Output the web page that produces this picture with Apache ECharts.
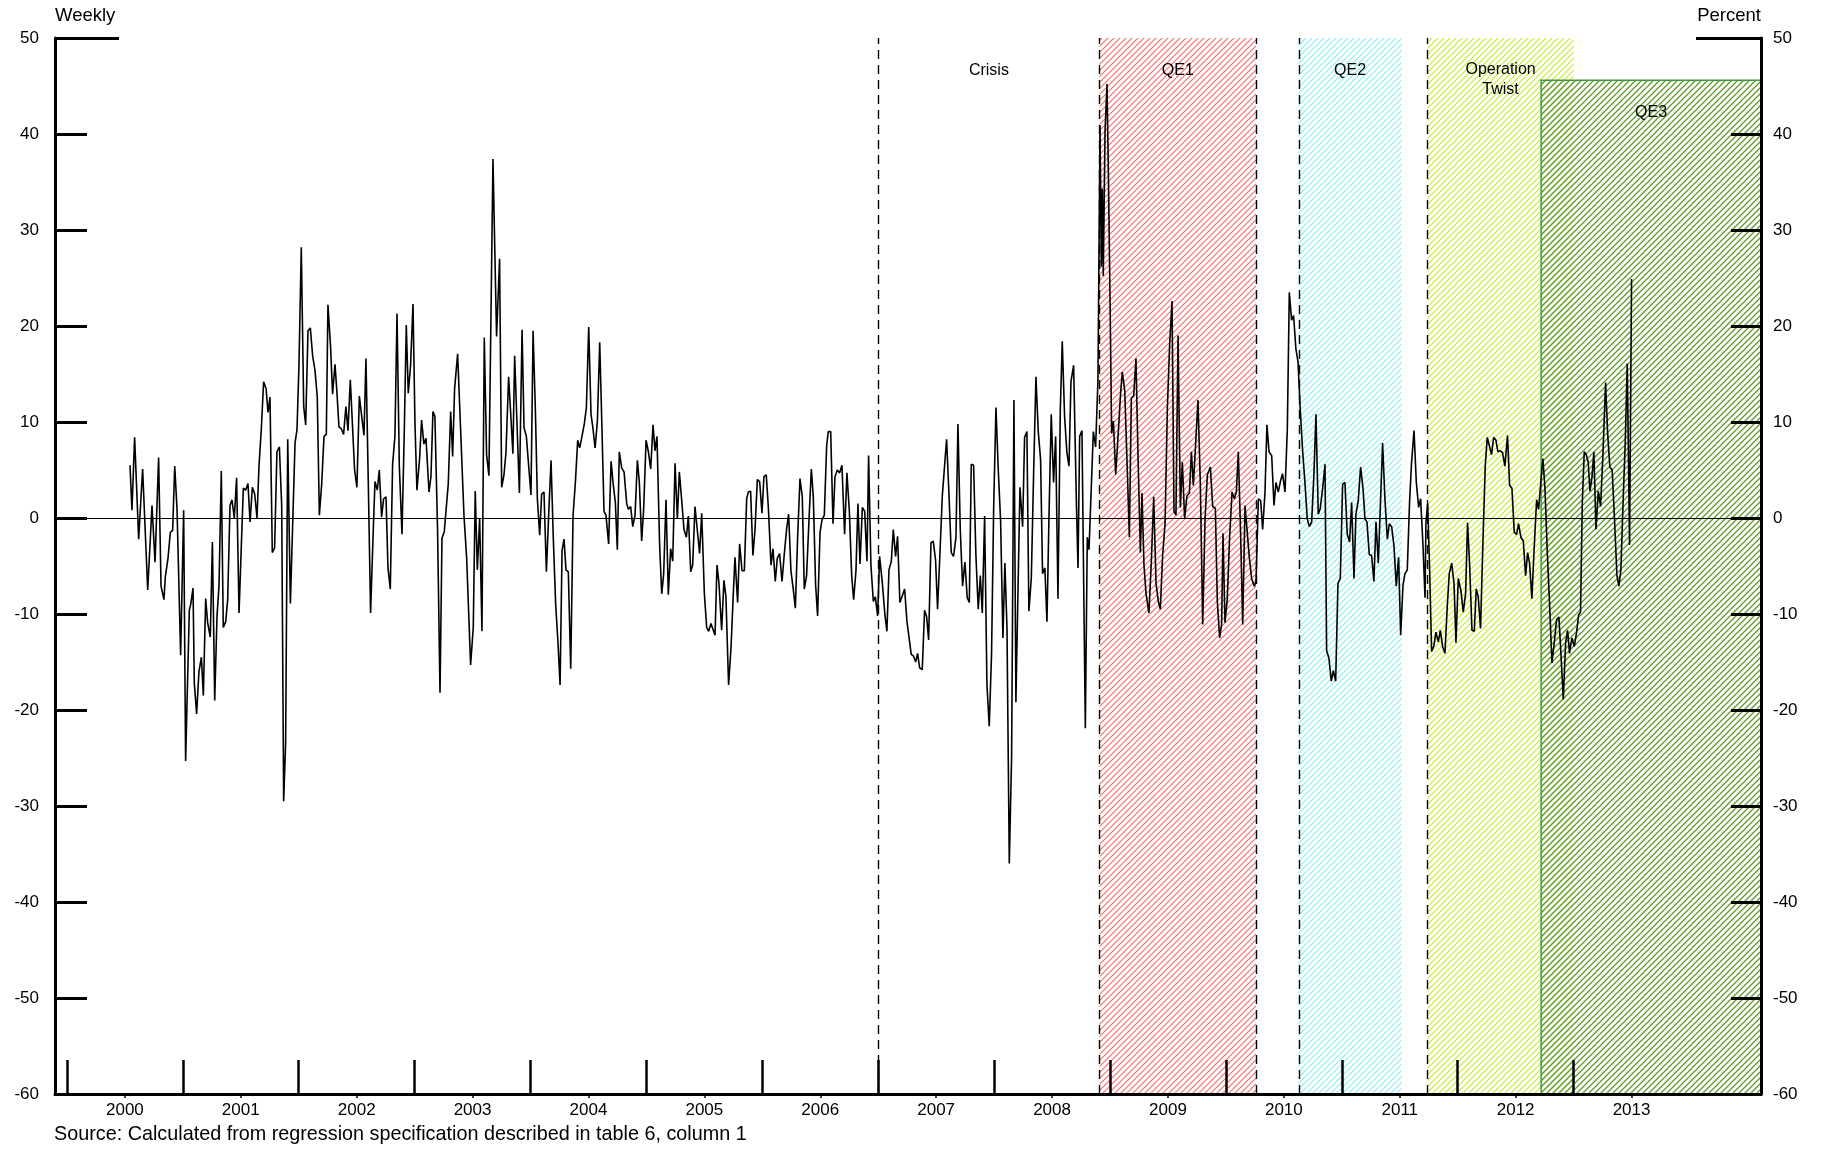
<!DOCTYPE html>
<html>
<head>
<meta charset="utf-8">
<script src="https://cdn.jsdelivr.net/npm/echarts@6/dist/echarts.min.js"></script>
<style>
html,body{margin:0;padding:0;background:#fff;}
#chart{width:1830px;height:1156px;}
</style>
</head>
<body>
<div id="chart"></div>
<script>
// ---- data (decimal year, value) ----
const weekly = [
[2000.544,5.5],[2000.561,0.8],[2000.584,8.4],[2000.619,-2.2],[2000.653,5.1],[2000.697,-7.5],[2000.734,1.3],[2000.760,-4.6],[2000.791,6.3],[2000.812,-7.1],[2000.837,-8.5],[2000.849,-6.1],[2000.872,-4.2],[2000.892,-1.5],[2000.912,-1.3],[2000.930,5.4],[2000.950,0.9],[2000.981,-14.3],[2001.007,0.8],[2001.024,-25.3],[2001.056,-9.6],[2001.068,-9.0],[2001.088,-7.3],[2001.099,-17.2],[2001.119,-20.4],[2001.139,-16.0],[2001.160,-14.5],[2001.177,-18.5],[2001.197,-8.4],[2001.214,-10.9],[2001.237,-12.4],[2001.255,-2.5],[2001.275,-19.0],[2001.295,-10.2],[2001.312,-7.1],[2001.332,4.9],[2001.349,-11.4],[2001.370,-10.8],[2001.387,-8.5],[2001.407,1.3],[2001.424,1.9],[2001.444,0],[2001.464,4.2],[2001.485,-9.9],[2001.505,-2.8],[2001.522,3.1],[2001.542,2.9],[2001.562,3.6],[2001.580,-0.4],[2001.600,3.2],[2001.620,2.5],[2001.640,0],[2001.657,5.4],[2001.677,9.2],[2001.697,14.2],[2001.718,13.5],[2001.735,11.0],[2001.752,12.6],[2001.772,-3.6],[2001.792,-3.1],[2001.812,6.9],[2001.833,7.4],[2001.853,1.3],[2001.870,-29.5],[2001.887,-23.4],[2001.905,8.2],[2001.928,-8.9],[2001.968,7.8],[2001.985,9.2],[2002.002,15.9],[2002.022,28.2],[2002.043,11.6],[2002.060,9.7],[2002.080,19.5],[2002.100,19.8],[2002.120,16.9],[2002.140,15.4],[2002.160,12.6],[2002.178,0.3],
[2002.198,3.5],[2002.218,8.5],[2002.238,8.7],[2002.252,22.2],[2002.275,17.8],[2002.292,12.9],[2002.313,16.0],[2002.330,13.0],[2002.347,9.5],[2002.367,9.3],[2002.387,8.7],[2002.407,11.6],[2002.425,9.1],[2002.445,14.4],[2002.462,14.6],[2002.482,5.0],[2002.502,3.2],[2002.523,12.7],[2002.540,12.9],[2002.563,8.6],[2002.580,16.6],[2002.600,3.8],[2002.620,-9.9],[2002.643,-1.3],[2002.658,3.8],[2002.678,2.9],[2002.695,5.0],[2002.715,0.1],[2002.732,2.0],[2002.753,2.2],[2002.770,-5.2],[2002.790,-7.4],[2002.810,5.6],[2002.830,8.5],[2002.848,21.3],[2002.868,5.4],[2002.891,-1.7],[2002.911,9.2],[2002.928,20.1],[2002.945,13.0],[2002.965,15.9],[2002.986,22.3],[2003.003,9.8],[2003.020,2.9],[2003.043,6.2],[2003.060,10.2],[2003.080,7.7],[2003.098,8.3],[2003.124,2.7],[2003.141,4.3],[2003.158,11.1],[2003.175,10.6],[2003.198,-1.3],[2003.219,-18.2],[2003.236,-2.1],[2003.256,-1.4],[2003.273,-1.3],[2003.290,3.5],[2003.311,11.1],[2003.328,6.4],[2003.345,13.5],[2003.371,17.1],[2003.426,0.2],[2003.449,-4.2],[2003.483,-15.3],[2003.506,-11.4],[2003.523,2.8],[2003.541,-5.4],[2003.561,-0.1],[2003.581,-11.8],[2003.601,18.8],[2003.621,6.6],[2003.641,4.4],[2003.676,37.4],[2003.707,18.9],[2003.733,27.0],[2003.751,3.2],[2003.771,4.5],[2003.788,6.8],[2003.811,14.7],[2003.828,11.1],[2003.848,6.7],[2003.863,16.9],
[2003.904,2.6],[2003.927,19.6],[2003.944,9.4],[2003.964,8.5],[2003.981,8.4],[2004.004,2.4],[2004.022,19.5],[2004.042,11.2],[2004.059,2.0],[2004.079,-1.8],[2004.096,2.5],[2004.116,2.7],[2004.137,-5.6],[2004.157,0.4],[2004.177,6.0],[2004.197,-2.3],[2004.217,-9.0],[2004.237,-13.0],[2004.255,-17.4],[2004.272,-3.4],[2004.289,-2.2],[2004.306,-5.4],[2004.326,-5.6],[2004.347,-15.7],[2004.367,0.3],[2004.387,3.7],[2004.407,8.1],[2004.424,7.3],[2004.444,8.5],[2004.464,9.8],[2004.482,11.5],[2004.502,19.9],[2004.522,10.8],[2004.539,9.3],[2004.557,7.3],[2004.577,10.1],[2004.597,18.3],[2004.617,9.0],[2004.634,0.7],[2004.651,0.3],[2004.674,-2.7],[2004.695,5.9],[2004.712,3.7],[2004.732,1.6],[2004.749,-3.3],[2004.766,6.9],[2004.787,5.2],[2004.807,4.8],[2004.830,1.5],[2004.844,0.9],[2004.864,1.2],[2004.882,-0.9],[2004.902,0.3],[2004.922,6.0],[2004.939,3.7],[2004.959,-2.4],[2004.976,0.9],[2004.997,8.1],[2005.017,6.9],[2005.037,5.1],[2005.057,9.7],[2005.074,7.0],[2005.091,8.5],[2005.114,-2.8],[2005.132,-7.9],[2005.149,-5.8],[2005.169,1.9],[2005.189,-8.0],[2005.209,-3.2],[2005.227,-4.5],[2005.247,5.7],[2005.267,-0.1],[2005.284,4.8],[2005.304,1.9],[2005.324,-1.2],[2005.345,-2.0],[2005.362,0.2],[2005.382,-5.6],[2005.399,-4.9],[2005.419,1.2],
[2005.459,-3.7],[2005.477,0.5],[2005.500,-7.9],[2005.520,-11.4],[2005.537,-11.8],[2005.557,-11.0],[2005.574,-10.8],[2005.592,-12.2],[2005.609,-4.9],[2005.626,-6.8],[2005.649,-11.7],[2005.669,-6.5],[2005.686,-8.2],[2005.709,-17.4],[2005.730,-13.5],[2005.747,-8.6],[2005.764,-4.1],[2005.787,-8.8],[2005.804,-2.7],[2005.825,-5.5],[2005.845,-5.5],[2005.865,2.0],[2005.879,2.7],[2005.899,2.8],[2005.919,-3.9],[2005.937,-1.2],[2005.957,4.0],[2005.977,3.8],[2005.997,0.5],[2006.014,4.3],[2006.034,4.5],[2006.052,1.1],[2006.075,-4.9],[2006.092,-3.2],[2006.112,-6.6],[2006.129,-4.2],[2006.149,-3.7],[2006.170,-6.6],[2006.190,-3.7],[2006.210,-1.1],[2006.227,0.4],[2006.247,-5.5],[2006.267,-7.4],[2006.285,-9.4],[2006.305,-1.9],[2006.325,4.1],[2006.345,2.2],[2006.362,-7.4],[2006.382,-6.0],[2006.403,-0.1],[2006.423,5.1],[2006.440,2.2],[2006.460,-7.0],[2006.477,-10.2],[2006.498,-1.5],[2006.515,-0.2],[2006.535,0.3],[2006.555,7.5],[2006.569,9.0],[2006.590,9.0],[2006.610,-0.6],[2006.627,4.3],[2006.647,5.0],[2006.667,4.7],[2006.687,5.5],[2006.710,-1.7],[2006.730,4.7],[2006.751,0.7],[2006.771,-6.0],[2006.788,-8.5],[2006.808,-5.5],[2006.825,1.5],[2006.843,-4.8],[2006.863,1.1],[2006.883,0.7],[2006.903,-4.5],[2006.917,6.5],[2006.937,-4.9],[2006.958,-8.7],[2006.975,-8.2],[2006.995,-10.2],[2007.012,-4.0],[2007.035,-6.7],[2007.058,-10.1],
[2007.075,-11.8],[2007.093,-5.4],[2007.113,-4.5],[2007.130,-1.2],[2007.150,-4.0],[2007.167,-1.9],[2007.187,-8.8],[2007.208,-8.1],[2007.228,-7.4],[2007.248,-10.8],[2007.265,-10.6],[2007.285,-14.2],[2007.305,-14.4],[2007.323,-15.0],[2007.340,-14.1],[2007.357,-15.6],[2007.380,-15.8],[2007.400,-9.6],[2007.418,-10.3],[2007.435,-12.7],[2007.455,-2.6],[2007.475,-2.4],[2007.495,-4.4],[2007.512,-9.5],[2007.533,-3.6],[2007.553,2.3],[2007.570,2.3],[2007.590,8.2],[2007.610,2.6],[2007.630,-3.6],[2007.650,-4.0],[2007.671,-2.0],[2007.688,9.8],[2007.708,-1.2],[2007.728,-7.1],[2007.748,-4.6],[2007.768,-8.3],[2007.786,-8.8],[2007.803,5.6],[2007.823,5.5],[2007.843,-3.9],[2007.863,-9.5],[2007.881,-6.0],[2007.898,-9.9],[2007.918,0.2],[2007.938,-17.3],[2007.958,-21.7],[2007.978,-14.1],[2007.996,1.0],[2008.016,11.5],[2008.036,5.0],[2008.056,-0.3],[2008.076,-12.5],[2008.093,-4.7],[2008.111,-11.4],[2008.131,-36.0],[2008.151,-24.8],[2008.171,12.3],[2008.188,-19.2],[2008.206,-7.6],[2008.223,3.2],[2008.246,-0.9],[2008.263,8.4],[2008.283,9.0],[2008.300,-9.7],[2008.321,-6.3],[2008.341,4.7],[2008.361,14.7],[2008.381,9.0],[2008.401,6.1],[2008.418,-5.8],[2008.438,-5.2],[2008.456,-10.8],[2008.473,-0.1],[2008.493,10.8],[2008.513,3.7],[2008.531,8.5],[2008.551,-8.4],[2008.571,11.2],[2008.588,18.4],[2008.608,10.6],[2008.628,6.8],[2008.646,5.4],[2008.663,14.2],[2008.686,15.9],
[2008.710,1.6],[2008.724,-5.2],[2008.738,8.5],[2008.758,9.1],[2008.770,9.0],[2008.787,-21.9],[2008.804,-2.0],[2008.819,-3.3],[2008.836,-3.1],[2008.856,9.0],[2008.876,7.4],[2008.896,14.4],[2008.914,40.9],[2008.925,26.2],[2008.934,34.3],[2008.942,25.2],[2008.957,40.2],[2008.974,45.2],[2008.986,35.9],[2009.000,23.0],[2009.014,8.8],[2009.029,10.1],[2009.049,4.5],[2009.072,9.0],[2009.092,13.1],[2009.106,15.2],[2009.127,13.3],[2009.147,5.8],[2009.167,-2.0],[2009.184,12.5],[2009.204,12.7],[2009.224,16.6],[2009.242,6.3],[2009.262,-3.6],[2009.276,2.6],[2009.293,-4.9],[2009.311,-7.9],[2009.336,-9.9],[2009.357,-4.4],[2009.377,2.2],[2009.397,-6.8],[2009.417,-8.7],[2009.434,-9.5],[2009.454,-3.9],[2009.475,-0.6],[2009.495,11.5],[2009.515,18.2],[2009.535,22.6],[2009.552,0.7],[2009.569,0.3],[2009.587,19.0],[2009.607,1.1],[2009.624,5.8],[2009.644,-0.1],[2009.664,2.3],[2009.685,2.6],[2009.702,6.9],[2009.719,3.4],[2009.739,7.7],[2009.759,12.3],[2009.779,3.7],[2009.800,-11.1],[2009.820,-0.1],[2009.840,4.5],[2009.866,5.3],[2009.886,1.2],[2009.909,1.0],[2009.926,-8.7],[2009.946,-12.5],[2009.963,-11.1],[2009.975,-1.6],[2009.992,-10.9],[2010.012,-8.4],[2010.032,-2.0],[2010.053,2.7],[2010.073,2.0],[2010.090,2.7],[2010.107,6.9],[2010.127,-1.7],[2010.145,-11.1],[2010.165,1.3],[2010.182,1.5],[2010.202,-4.1],[2010.222,-6.3],[2010.245,-7.1],[2010.260,-6.6],[2010.280,2.0],[2010.300,1.8],[2010.317,-1.2],[2010.337,2.6],
[2010.354,9.7],[2010.372,6.9],[2010.395,6.5],[2010.415,1.3],[2010.432,3.7],[2010.452,2.7],[2010.472,3.9],[2010.489,4.6],[2010.510,2.7],[2010.530,9.3],[2010.547,23.5],[2010.567,20.6],[2010.584,21.1],[2010.604,17.6],[2010.622,16.3],[2010.642,11.2],[2010.662,7.0],[2010.682,3.7],[2010.702,-0.1],[2010.720,-0.9],[2010.740,-0.4],[2010.760,4.7],[2010.777,10.8],[2010.797,0.4],[2010.814,1.0],[2010.835,3.1],[2010.855,5.6],[2010.869,-13.8],[2010.889,-14.6],[2010.909,-17.0],[2010.927,-15.9],[2010.947,-17.0],[2010.967,-6.8],[2010.987,-6.3],[2011.007,3.5],[2011.027,3.7],[2011.047,-1.7],[2011.067,-2.5],[2011.085,1.6],[2011.105,-6.3],[2011.122,0.4],[2011.142,1.8],[2011.162,5.3],[2011.183,3.1],[2011.200,-0.1],[2011.217,-0.4],[2011.237,-3.8],[2011.257,-3.9],[2011.277,-6.6],[2011.295,-0.4],[2011.315,-4.7],[2011.335,2.0],[2011.352,7.8],[2011.372,2.0],[2011.393,-2.2],[2011.410,-0.6],[2011.430,-0.9],[2011.450,-2.9],[2011.470,-7.1],[2011.490,-4.1],[2011.508,-12.2],[2011.528,-7.0],[2011.545,-5.8],[2011.565,-5.4],[2011.585,1.8],[2011.602,5.8],[2011.623,9.1],[2011.643,3.7],[2011.663,1.1],[2011.680,2.0],[2011.700,-2.7],[2011.718,-8.3],[2011.726,-0.4],[2011.741,1.5],[2011.758,-5.5],[2011.775,-13.9],[2011.795,-13.3],[2011.812,-11.9],[2011.833,-12.9],[2011.850,-11.7],[2011.870,-13.4],[2011.890,-14.1],[2011.910,-9.2],[2011.927,-5.8],[2011.948,-4.7],[2011.968,-6.8],[2011.976,-9.5],
[2011.985,-13.0],[2012.005,-6.3],[2012.028,-7.6],[2012.048,-9.8],[2012.068,-7.9],[2012.085,-0.5],[2012.103,-4.9],[2012.123,-11.7],[2012.143,-11.8],[2012.160,-7.4],[2012.177,-8.2],[2012.197,-11.5],[2012.218,-2.4],[2012.238,5.5],[2012.255,8.4],[2012.272,8.6],[2012.292,6.6],[2012.310,8.4],[2012.330,8.1],[2012.347,6.9],[2012.367,7.0],[2012.387,6.8],[2012.407,5.4],[2012.430,8.6],[2012.448,3.4],[2012.468,3.1],[2012.488,-1.5],[2012.508,-1.7],[2012.525,-0.6],[2012.545,-2.0],[2012.566,-2.4],[2012.586,-6.0],[2012.603,-3.6],[2012.620,-4.7],[2012.640,-8.4],[2012.660,-3.1],[2012.681,1.9],[2012.698,0.9],[2012.715,3.4],[2012.735,6.2],[2012.753,3.1],[2012.773,-3.6],[2012.793,-9.0],[2012.813,-15.1],[2012.833,-13.0],[2012.853,-10.6],[2012.873,-10.3],[2012.891,-14.2],[2012.911,-18.9],[2012.931,-13.0],[2012.948,-11.7],[2012.965,-14.1],[2012.985,-12.5],[2013.006,-13.4],[2013.026,-11.9],[2013.043,-10.1],[2013.060,-9.8],[2013.075,1.6],[2013.092,6.9],[2013.109,6.6],[2013.126,5.8],[2013.141,2.8],[2013.158,4.2],[2013.175,6.9],[2013.193,-1.2],[2013.213,2.8],[2013.233,1.2],[2013.253,6.6],[2013.276,14.1],[2013.293,9.0],[2013.313,5.3],[2013.333,5.0],[2013.354,-0.4],[2013.374,-6.0],[2013.391,-7.1],[2013.408,-5.4],[2013.428,2.0],[2013.446,8.0],[2013.463,16.1],[2013.483,-2.8],[2013.500,24.9]
];

// episodes
const episodeNames  = ['Crisis', 'QE1', 'QE2', 'Operation\nTwist', 'QE3'];
const episodeStart  = [2007.0, 2008.91, 2010.625, 2011.74, 2012.72];
const episodeEnd    = [2008.91, 2010.26, 2011.517, 2013.0, 2014.617];
const episodeTop    = [50, 50, 50, 50, 45.6];
const dashedLines   = [2007.0, 2008.91, 2010.26, 2010.625, 2011.74];

const yearLabelPos  = [2000.5,2001.5,2002.5,2003.5,2004.5,2005.5,2006.5,2007.5,2008.5,2009.5,2010.5,2011.5,2012.5,2013.5];
const yearTickPos   = [2000,2001,2002,2003,2004,2005,2006,2007,2008,2009,2010,2011,2012,2013];
const yTicks        = [-50,-40,-30,-20,-10,0,10,20,30,40];
const X_MIN = 1999.897, X_MAX = 2014.617;

const FONT = '"Liberation Sans", Arial, sans-serif';

function hatch(color, period, width) {
  const c = document.createElement('canvas');
  c.width = period; c.height = period;
  const g = c.getContext('2d');
  g.strokeStyle = color; g.lineWidth = width;
  g.beginPath();
  g.moveTo(0, period); g.lineTo(period, 0);
  g.moveTo(-period, period); g.lineTo(period, -period);
  g.moveTo(0, 2 * period); g.lineTo(2 * period, 0);
  g.stroke();
  return { image: c, repeat: 'repeat' };
}

const fills = [
  'rgba(0,0,0,0)',
  hatch('#f07070', 6, 1.2),
  hatch('#8eeeee', 6, 1.2),
  hatch('#c4ec30', 6, 1.2),
  hatch('#5a9a28', 6, 1.25)
];
const borders = [null, null, null, null, '#3f9a3f'];
const labelDist = [23, 23, 23, 22, 23];

const areaData = episodeNames.map((n, i) => [
  {
    xAxis: episodeStart[i], yAxis: -60,
    itemStyle: { color: fills[i], borderColor: borders[i] || 'rgba(0,0,0,0)', borderWidth: borders[i] ? 1.5 : 0 },
    label: { show: true, formatter: n, position: 'insideTop', distance: labelDist[i],
             color: '#000', fontSize: 16, fontFamily: FONT, lineHeight: 20, align: 'center' }
  },
  { xAxis: episodeEnd[i], yAxis: episodeTop[i] }
]);

const lineData = [{ yAxis: 0, lineStyle: { type: 'solid', width: 1, color: '#000' } }]
  .concat(dashedLines.map(v => ({ xAxis: v, lineStyle: { type: [9, 6], width: 1.4, color: '#000' } })));

const chart = echarts.init(document.getElementById('chart'), null, { renderer: 'canvas' });

const yBase = {
  type: 'value', min: -60, max: 50, interval: 10, z: 20,
  splitLine: { show: false }
};

chart.setOption({
  animation: false,
  backgroundColor: '#fff',
  title: {
    text: 'Source: Calculated from regression specification described in table 6, column 1',
    left: 54, top: 1125, padding: 0,
    textStyle: { fontSize: 19.8, fontWeight: 'normal', color: '#000', fontFamily: FONT }
  },
  grid: { left: 55, right: 69, top: 38, bottom: 62, containLabel: false, outerBoundsMode: 'none' },
  xAxis: [
    {
      type: 'value', min: X_MIN, max: X_MAX, position: 'bottom', z: 20,
      axisLine: { show: true, onZero: false, lineStyle: { color: '#000', width: 3 } },
      axisTick: { show: true, inside: false, length: 4, customValues: yearLabelPos, lineStyle: { color: '#000', width: 1.5 } },
      axisLabel: { show: true, customValues: yearLabelPos, margin: 8, formatter: v => String(Math.floor(v)),
                   color: '#000', fontSize: 17, fontFamily: FONT },
      splitLine: { show: false }
    },
    {
      type: 'value', min: X_MIN, max: X_MAX, position: 'bottom', z: 20,
      axisLine: { show: false, onZero: false },
      axisTick: { show: true, inside: true, length: 34, customValues: yearTickPos, lineStyle: { color: '#000', width: 2.5 } },
      axisLabel: { show: false },
      splitLine: { show: false }
    }
  ],
  yAxis: [
    Object.assign({}, yBase, {
      position: 'left', name: 'Weekly', nameLocation: 'end', nameGap: 13,
      nameTextStyle: { align: 'left', color: '#000', fontSize: 18.5, fontFamily: FONT },
      axisLine: { show: true, onZero: false, lineStyle: { color: '#000', width: 3 } },
      axisTick: { show: true, inside: true, length: 32, customValues: yTicks, lineStyle: { color: '#000', width: 3 } },
      axisLabel: { color: '#000', fontSize: 17, fontFamily: FONT, margin: 16 }
    }),
    Object.assign({}, yBase, {
      position: 'right', name: 'Percent', nameLocation: 'end', nameGap: 13,
      nameTextStyle: { align: 'right', color: '#000', fontSize: 18.5, fontFamily: FONT },
      axisLine: { show: true, onZero: false, lineStyle: { color: '#000', width: 3 } },
      axisTick: { show: true, inside: true, length: 30, customValues: yTicks, lineStyle: { color: '#000', width: 3 } },
      axisLabel: { color: '#000', fontSize: 17, fontFamily: FONT, margin: 12 }
    }),
    Object.assign({}, yBase, {
      position: 'left',
      axisLine: { show: false, onZero: false },
      axisTick: { show: true, inside: true, length: 64, customValues: [50], lineStyle: { color: '#000', width: 3 } },
      axisLabel: { show: false }
    }),
    Object.assign({}, yBase, {
      position: 'right',
      axisLine: { show: false, onZero: false },
      axisTick: { show: true, inside: true, length: 65, customValues: [50], lineStyle: { color: '#000', width: 3 } },
      axisLabel: { show: false }
    })
  ],
  series: [
    {
      type: 'line', xAxisIndex: 0, yAxisIndex: 0,
      data: weekly,
      showSymbol: false, symbol: 'none',
      lineStyle: { color: '#000', width: 1.6 },
      markArea: { silent: true, data: areaData },
      markLine: { silent: true, symbol: ['none', 'none'], label: { show: false }, data: lineData }
    }
  ]
});
</script>
</body>
</html>
